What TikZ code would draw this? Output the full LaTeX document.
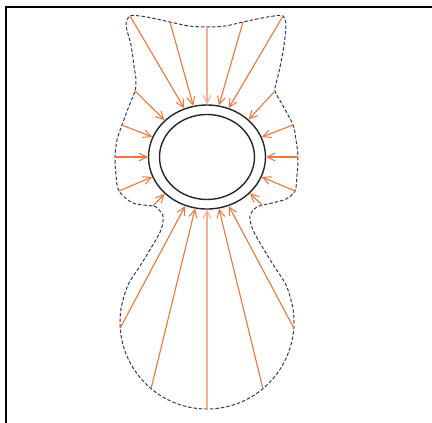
\documentclass[tikz,border=0pt]{standalone}
\usetikzlibrary{arrows.meta,shapes.geometric,calc}
\definecolor{outl}{RGB}{55,55,85}
\definecolor{arr}{RGB}{238,118,58}
\definecolor{arrlight}{RGB}{245,175,148}
\begin{document}
\begin{tikzpicture}[x=1pt,y=-1pt,
  flow/.style={draw=arr,line width=1.1pt,-{Straight Barb[length=8pt,width=8pt,line width=1pt]}},
  flowmid/.style={draw=arrlight,line width=2pt,-{Straight Barb[length=8pt,width=8pt,line width=1pt]}},
  ringline/.style={draw=black!85,line width=1.4pt,ellipse,inner sep=0pt},
  outline/.style={draw=outl,line width=1pt,dash pattern=on 3.5pt off 2pt}]
\useasboundingbox (0,0) rectangle (432,423);
\draw[line width=2pt] (6,423) -- (6,7) -- (432,7);
% ring
\node[ringline,minimum width=117pt,minimum height=104pt] (ring) at (207,157) {};
\node[ringline,minimum width=95pt,minimum height=85pt] (core) at (207,157) {};
% start coordinates on outline
\coordinate (t1) at (130,16);
\coordinate (t2) at (170,22);
\coordinate (t3) at (207,27);
\coordinate (t4) at (243,22);
\coordinate (t5) at (283,16);
\coordinate (l1) at (135,91);
\coordinate (l2) at (122,125);
\coordinate (l3) at (115,157);
\coordinate (l4) at (119,191);
\coordinate (l5) at (153,206);
\coordinate (r1) at (275,91);
\coordinate (r2) at (293,125);
\coordinate (r3) at (298,157);
\coordinate (r4) at (295,191);
\coordinate (r5) at (262,205);
\coordinate (c) at (207,322);
\coordinate (b1) at ($(c)+(176:87)$);
\coordinate (b2) at ($(c)+(130:87)$);
\coordinate (b3) at ($(c)+(90:87)$);
\coordinate (b4) at ($(c)+(50:87)$);
\coordinate (b5) at ($(c)+(4:87)$);
% outline
\draw[outline] plot[smooth,tension=0.55] coordinates {
 (120,322) (121.3,307) (128,285) (140,266) (151,248) (161,230) (163,216)
 (157,208) (l5) (133,203) (l4) (116,175) (l3) (117,140) (l2) (129,106) (l1) (136,80) (134,66) (131,45) (126,25)
 (t1) (140,16) (152,18) (t2) (189,26) (t3) (225,26) (t4) (262,18) (274,16) (t5) (286,25)
 (284,45) (280,67) (277,80) (r1) (282,104) (r2) (296,140) (r3) (297,175) (r4) (286,199) (272,203) (257,207) (250,216)
 (253,230) (263,248) (274,266) (286,285) (292.7,307) (294,322)}
 arc[start angle=0,end angle=180,radius=87];
% arrows
\draw[flow] (t1) -- (ring.115);
\draw[flow] (t2) -- (ring.105);
\draw[flowmid] (t3) -- (ring.90);
\draw[flow] (t4) -- (ring.77);
\draw[flow] (t5) -- (ring.66);
\draw[flow] (l1) -- (ring.139);
\draw[flow] (l2) -- (ring.160);
\draw[flow] (l3) -- (ring.180);
\draw[flow] (l4) -- (ring.200);
\draw[flow] (l5) -- (ring.221);
\draw[flow] (r1) -- (ring.42);
\draw[flow] (r2) -- (ring.20);
\draw[flow] (r3) -- (ring.0);
\draw[flow] (r4) -- (ring.-20);
\draw[flow] (r5) -- (ring.-40);
\draw[flow] (b1) -- (ring.246);
\draw[flow] (b2) -- (ring.257);
\draw[flowmid] (b3) -- (ring.270);
\draw[flow] (b4) -- (ring.283);
\draw[flow] (b5) -- (ring.294);
\end{tikzpicture}
\end{document}
